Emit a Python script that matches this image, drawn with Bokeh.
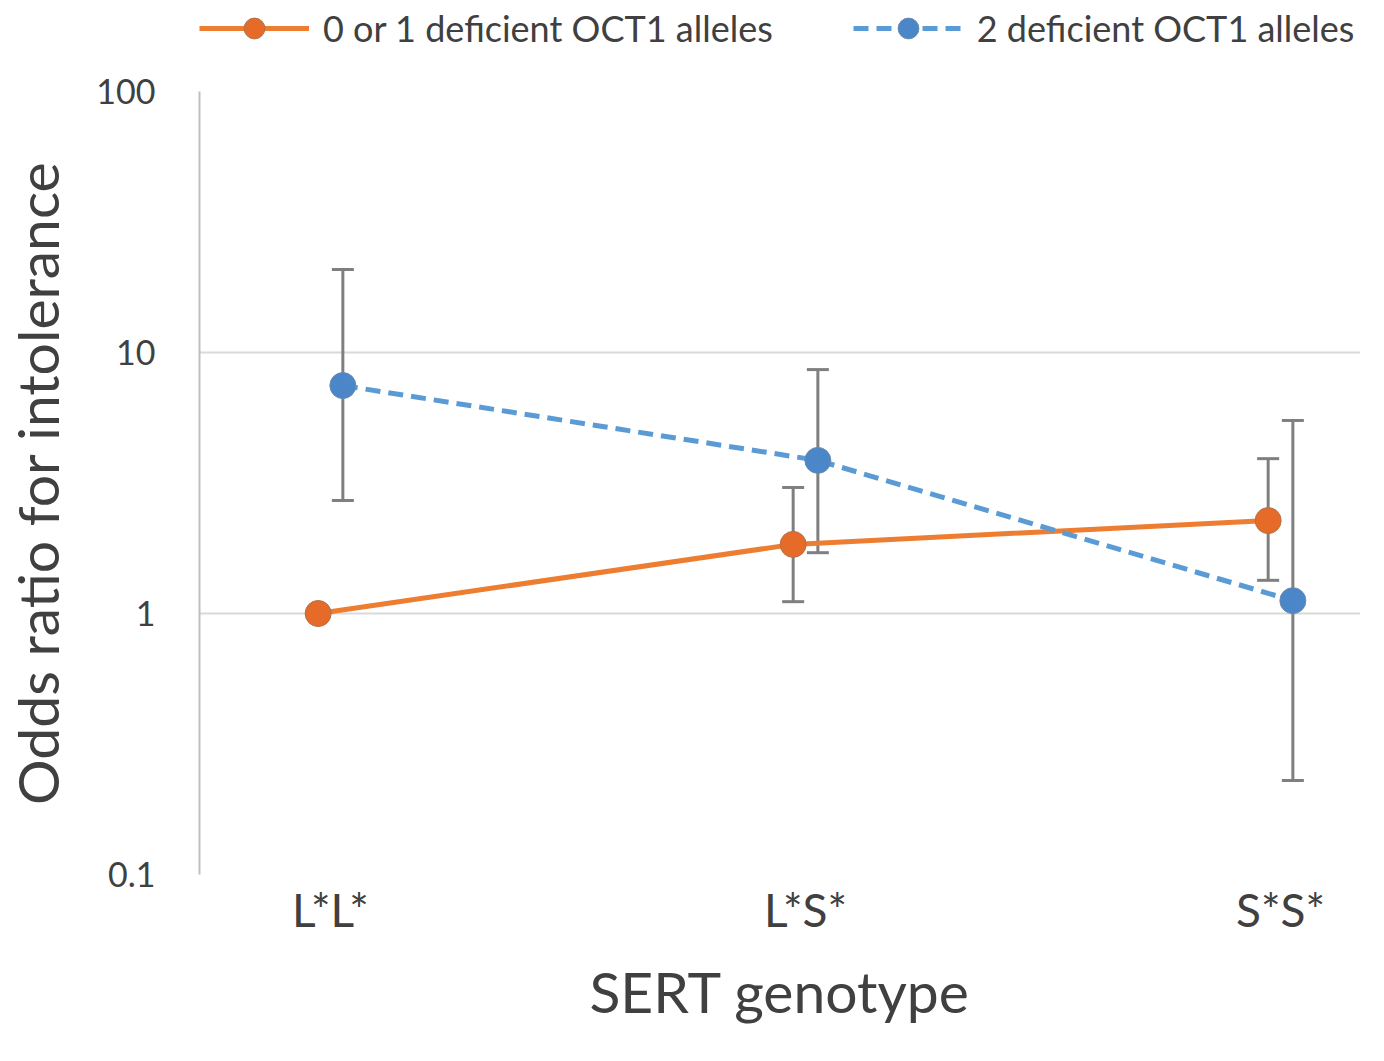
from bokeh.plotting import figure
from bokeh.layouts import column
from bokeh.models import (ColumnDataSource, Whisker, TeeHead, FixedTicker, Legend, LegendItem, Range1d)
from bokeh.embed import file_html
from bokeh.resources import INLINE

categories = ["L*L*", "L*S*", "S*S*"]
cat_pos = [0, 1, 2]
offset = 0.026

# Series: 0 or 1 deficient OCT1 alleles
or_01 = [1.0, 1.84, 2.27]
or_01_lo = [None, 1.11, 1.34]
or_01_hi = [None, 3.04, 3.92]

# Series: 2 deficient OCT1 alleles
or_2 = [7.47, 3.86, 1.12]
or_2_lo = [2.71, 1.71, 0.229]
or_2_hi = [20.8, 8.6, 5.49]

y_ticks = [0.1, 1, 10, 100]
y_tick_labels = ["0.1", "1", "10", "100"]
series_names = ["0 or 1 deficient OCT1 alleles", "2 deficient OCT1 alleles"]

ORANGE = "#ED7D31"
BLUE = "#5B9BD5"
FONT = "Lato"
W = 1360
LEG_H = 66

src1 = ColumnDataSource(dict(x=[c - offset for c in cat_pos], y=or_01))
src2 = ColumnDataSource(dict(x=[c + offset for c in cat_pos], y=or_2))

idx1 = [i for i in range(len(or_01)) if or_01_lo[i] is not None]
wsrc1 = ColumnDataSource(dict(x=[cat_pos[i] - offset for i in idx1],
                              lo=[or_01_lo[i] for i in idx1], hi=[or_01_hi[i] for i in idx1]))
wsrc2 = ColumnDataSource(dict(x=[c + offset for c in cat_pos], lo=or_2_lo, hi=or_2_hi))


def draw_series(fig):
    a = fig.line("x", "y", source=src1, line_color=ORANGE, line_width=5)
    b = fig.line("x", "y", source=src2, line_color=BLUE, line_width=5, line_dash="15 8")
    c = fig.scatter("x", "y", source=src1, size=26, fill_color="#E66A28", line_color="#B0704A", line_width=1)
    d = fig.scatter("x", "y", source=src2, size=26, fill_color="#4A86C8", line_color="#6A8AB0", line_width=1)
    return a, b, c, d


# ---------- legend strip ----------
leg = figure(width=W, height=LEG_H, x_range=Range1d(100, 101), y_range=Range1d(100, 101),
             output_backend="svg", toolbar_location=None,
             x_axis_location=None, y_axis_location=None,
             min_border_left=0, min_border_right=0, min_border_top=0, min_border_bottom=0)
leg.outline_line_color = None
leg.xgrid.grid_line_color = None
leg.ygrid.grid_line_color = None
ll1, ll2, ls1, ls2 = draw_series(leg)
legend = Legend(items=[LegendItem(label=series_names[0], renderers=[ll1, ls1]),
                       LegendItem(label=series_names[1], renderers=[ll2, ls2])],
                orientation="horizontal", location=(0, 12),
                glyph_width=110, glyph_height=52, label_standoff=14, spacing=80,
                label_text_font=FONT, label_text_font_size="36px", label_text_color="#404040",
                border_line_color=None, background_fill_alpha=0, padding=0, margin=0)
leg.add_layout(legend, "center")

# ---------- main chart ----------
p = figure(width=W, height=1036 - LEG_H, y_axis_type="log",
           x_range=Range1d(-0.2758, 2.1684), y_range=Range1d(0.1, 100),
           output_backend="svg", toolbar_location=None,
           min_border_left=189, min_border_right=0, min_border_top=25, min_border_bottom=162)
p.outline_line_color = None
p.background_fill_color = "white"

for ws in (wsrc1, wsrc2):
    w = Whisker(source=ws, base="x", lower="lo", upper="hi",
                line_color="#7F7F7F", line_width=3,
                upper_head=TeeHead(size=22, line_color="#7F7F7F", line_width=3),
                lower_head=TeeHead(size=22, line_color="#7F7F7F", line_width=3))
    p.add_layout(w)

draw_series(p)

p.xaxis.ticker = FixedTicker(ticks=cat_pos)
p.xaxis.major_label_overrides = {c: lab for c, lab in zip(cat_pos, categories)}
p.xaxis.axis_line_color = None
p.xaxis.major_tick_line_color = None
p.xaxis.minor_tick_line_color = None
p.xaxis.major_label_text_font = FONT
p.xaxis.major_label_text_font_size = "46px"
p.xaxis.major_label_text_color = "#404040"
p.xaxis.major_label_standoff = 1
p.xaxis.axis_label = "SERT genotype"
p.xaxis.axis_label_text_font = FONT
p.xaxis.axis_label_text_font_size = "57px"
p.xaxis.axis_label_text_font_style = "normal"
p.xaxis.axis_label_text_color = "#404040"
p.xaxis.axis_label_standoff = 17

p.yaxis.ticker = FixedTicker(ticks=y_ticks, minor_ticks=[])
p.yaxis.major_label_overrides = {t: lab for t, lab in zip(y_ticks, y_tick_labels)}
p.yaxis.axis_line_color = "#BFBFBF"
p.yaxis.axis_line_width = 2
p.yaxis.major_tick_line_color = None
p.yaxis.minor_tick_line_color = None
p.yaxis.major_label_text_font = FONT
p.yaxis.major_label_text_font_size = "34px"
p.yaxis.major_label_text_color = "#404040"
p.yaxis.major_label_standoff = 38
p.yaxis.axis_label = "Odds ratio for intolerance"
p.yaxis.axis_label_text_font = FONT
p.yaxis.axis_label_text_font_size = "57px"
p.yaxis.axis_label_text_font_style = "normal"
p.yaxis.axis_label_text_color = "#404040"
p.yaxis.axis_label_standoff = 22

p.xgrid.grid_line_color = None
p.ygrid.ticker = FixedTicker(ticks=y_ticks, minor_ticks=[])
p.ygrid.grid_line_color = "#D9D9D9"
p.ygrid.grid_line_width = 2

layout = column(leg, p, spacing=0)
open("out.html", "w").write(file_html(layout, INLINE))
